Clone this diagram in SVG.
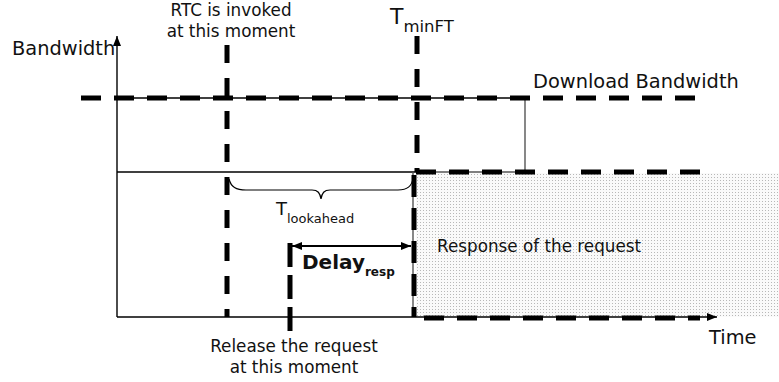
<svg xmlns="http://www.w3.org/2000/svg" width="779" height="382" viewBox="0 0 779 382">
  <style>
    text { font-family: "DejaVu Sans", Verdana, sans-serif; fill: #111; }
    .lbl { font-size: 16.8px; }
    .big { font-size: 19.4px; }
    .thin { stroke: #000; stroke-width: 1.4; fill: none; }
    .grey { stroke: #555; stroke-width: 1.4; fill: none; }
    .dashH { stroke: #000; stroke-width: 5; stroke-dasharray: 20 13; fill: none; }
    .dashV { stroke: #000; stroke-width: 5; stroke-dasharray: 18 15; fill: none; }
  </style>
  <defs>
    <pattern id="dots" width="3" height="3" patternUnits="userSpaceOnUse">
      <rect width="3" height="3" fill="#fafafa"/>
      <rect width="1" height="1" fill="#b8b8b8"/>
    </pattern>
    <marker id="arrow" viewBox="0 0 10 8" refX="10" refY="4" markerWidth="10" markerHeight="8" markerUnits="userSpaceOnUse" orient="auto-start-reverse">
      <path d="M0,0 L10,4 L0,8 Z" fill="#000"/>
    </marker>
  </defs>

  <!-- response area -->
  <g id="response">
    <rect x="416" y="173" width="363" height="144" fill="url(#dots)"/>
    <text class="lbl" x="437" y="252">Response of the request</text>
  </g>

  <!-- axes -->
  <g id="axes">
    <line class="thin" x1="117" y1="317" x2="117" y2="36" marker-end="url(#arrow)"/>
    <line class="thin" x1="117" y1="317" x2="717" y2="317" marker-end="url(#arrow)"/>
    <text class="big" x="12" y="55">Bandwidth</text>
    <text class="big" x="709" y="344">Time</text>
  </g>

  <g id="connectors">
    <!-- download bandwidth level -->
    <line class="thin" x1="117" y1="98" x2="525" y2="98"/>
    <line class="grey" x1="525" y1="98" x2="525" y2="172"/>
    <line class="dashH" x1="81" y1="98" x2="706" y2="98"/>
    <!-- current bandwidth level -->
    <line class="thin" x1="117" y1="172" x2="416" y2="172"/>
    <line class="grey" x1="416" y1="172" x2="525" y2="172"/>
    <line class="dashH" x1="416" y1="172" x2="700" y2="172"/>
    <!-- lower border of the response area -->
    <line class="dashH" x1="424" y1="318" x2="700" y2="318"/>
    <!-- RTC invocation moment -->
    <line class="dashV" x1="227" y1="45" x2="227" y2="317"/>
    <!-- T minFT -->
    <line class="dashV" x1="417" y1="36" x2="417" y2="172"/>
    <line class="grey" x1="413" y1="172" x2="413" y2="317"/>
    <line class="dashV" x1="414" y1="175" x2="414" y2="317" style="stroke-dasharray:22 11"/>
    <!-- request release moment -->
    <line class="dashV" x1="290" y1="243" x2="290" y2="331" style="stroke-dasharray:24 8"/>
    <!-- delay arrow -->
    <line class="thin" x1="292" y1="246" x2="411" y2="246" style="stroke-width:2" marker-start="url(#arrow)" marker-end="url(#arrow)"/>
    <!-- lookahead brace -->
    <path class="thin" style="stroke-width:1.2" d="M229,179 C231,187 236,190 246,190 L312,190 C318,190 320,193 321,199 C322,193 324,190 330,190 L398,190 C408,190 412,186 413,178"/>
  </g>

  <g id="labels">
    <text class="lbl" x="231" y="16" text-anchor="middle">RTC is invoked</text>
    <text class="lbl" x="231" y="37" text-anchor="middle">at this moment</text>
    <text x="390" y="24" style="font-size:22px">T<tspan dy="8" style="font-size:16.5px">minFT</tspan></text>
    <text class="big" x="533" y="88">Download Bandwidth</text>
    <text x="276" y="215" style="font-size:18px">T<tspan dy="8" style="font-size:13px">lookahead</tspan></text>
    <text x="302" y="269" style="font-size:20px;font-weight:bold">Delay<tspan dy="7" style="font-size:12px">resp</tspan></text>
    <text class="lbl" x="294" y="352" text-anchor="middle">Release the request</text>
    <text class="lbl" x="294" y="373" text-anchor="middle">at this moment</text>
  </g>
</svg>
